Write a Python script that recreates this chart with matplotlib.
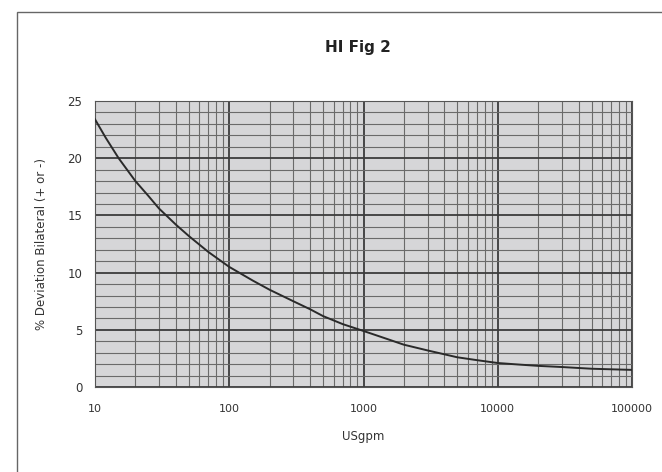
import matplotlib.pyplot as plt
from matplotlib.patches import Rectangle
from matplotlib.ticker import FixedLocator, NullFormatter, MultipleLocator

# flow (US gpm) vs % deviation
flow = [10, 12, 15, 20, 25, 30, 40, 50, 70, 100, 150, 200, 300, 400, 500,
        700, 1000, 1500, 2000, 3000, 5000, 7000, 10000, 15000, 20000, 30000,
        50000, 70000, 100000]
deviation = [23.4, 21.8, 20.0, 18.0, 16.7, 15.6, 14.2, 13.2, 11.8, 10.5, 9.3,
             8.5, 7.5, 6.8, 6.2, 5.5, 4.9, 4.2, 3.7, 3.2, 2.6, 2.35, 2.1, 1.95,
             1.85, 1.75, 1.6, 1.55, 1.5]
x_ticks = [10, 100, 1000, 10000, 100000]
x_labels = ["10", "100", "1000", "10000", "100000"]
y_ticks = [0, 5, 10, 15, 20, 25]

fig = plt.figure(figsize=(6.62, 4.72), dpi=100)
fig.patches.append(Rectangle((0.026, -0.05), 1.0, 1.025, transform=fig.transFigure,
                             fill=False, edgecolor="#666666", linewidth=1.0))

ax = fig.add_axes([0.1435, 0.180, 0.8112, 0.606])
ax.set_facecolor("#d6d6d8")
ax.plot(flow, deviation, color="#2a2a2a", linewidth=1.4, zorder=3)
ax.set_xscale("log")
ax.set_xlim(10, 100000)
ax.set_ylim(0, 25)

ax.set_xticks(x_ticks)
ax.set_xticklabels(x_labels)
ax.xaxis.set_minor_locator(FixedLocator(
    [m * 10 ** d for d in range(1, 5) for m in range(2, 10)]))
ax.xaxis.set_minor_formatter(NullFormatter())
ax.set_yticks(y_ticks)
ax.yaxis.set_minor_locator(MultipleLocator(1))

ax.grid(which="major", color="#3c3c3c", linewidth=1.3)
ax.grid(which="minor", color="#6a6a6a", linewidth=0.8)
ax.tick_params(which="both", length=0)
ax.tick_params(axis="x", labelsize=8, pad=12, colors="#333333")
ax.tick_params(axis="y", labelsize=8.5, pad=9, colors="#333333")
for s in ax.spines.values():
    s.set_color("#555555")

ax.set_xlabel("USgpm", fontsize=8.5, color="#333333", labelpad=12)
ax.set_ylabel("% Deviation Bilateral (+ or -)", fontsize=8.5, color="#333333",
              labelpad=14)
fig.suptitle("HI Fig 2", fontsize=11, fontweight="bold", color="#222222",
             y=0.915, x=0.54)

fig.savefig("out.png", dpi=100)
